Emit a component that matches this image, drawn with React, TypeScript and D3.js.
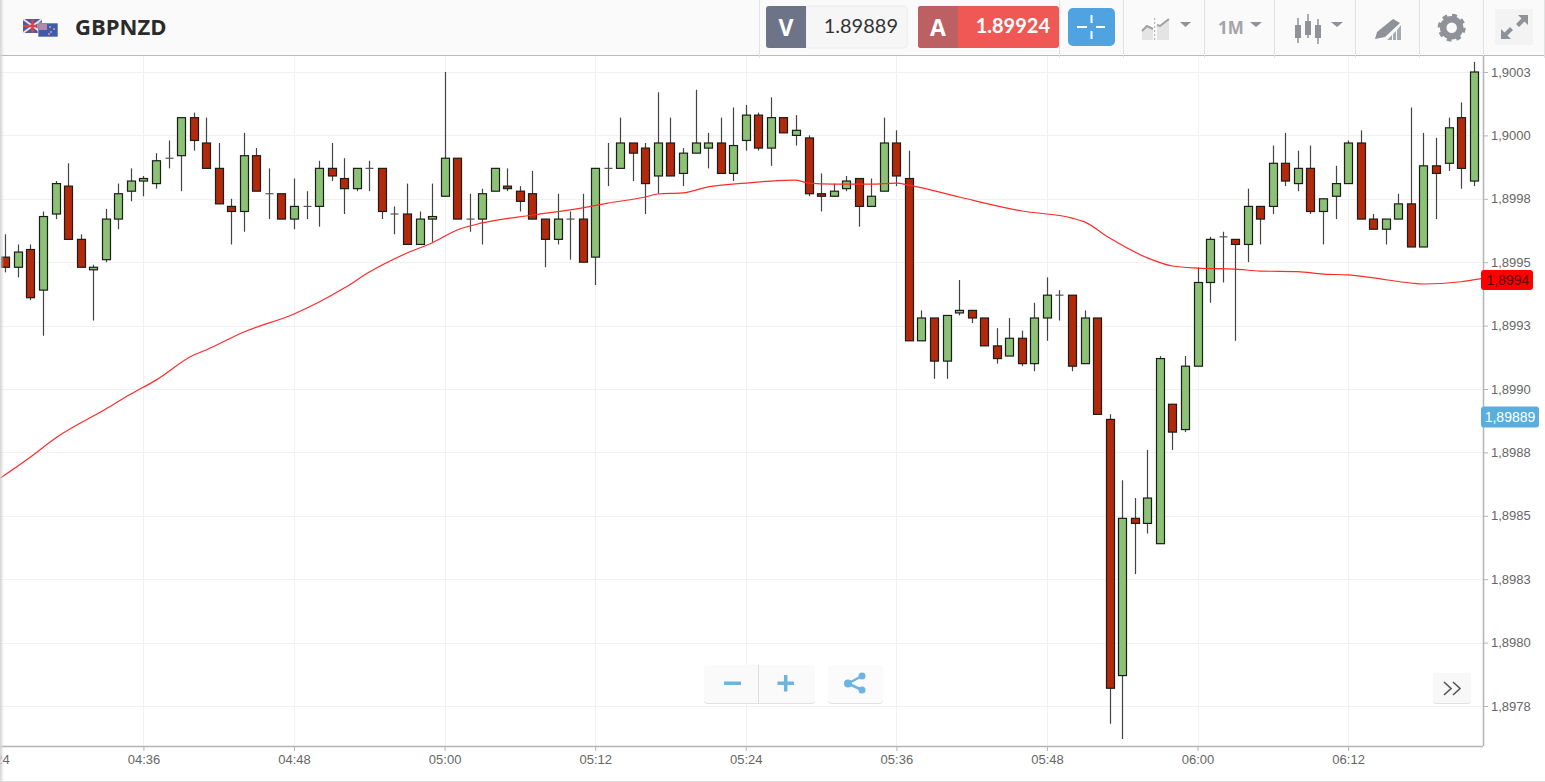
import * as d3 from 'd3';
import { useEffect, useRef } from 'react';

const symbol = 'GBPNZD';
const bidPrice = '1.89889';
const askPrice = '1.89924';
const period = '1M';
const emaLabel = '1,8994';
const bidLabel = '1,89889';

// one candle per minute, first one is 04:25
const firstMinute = 4 * 60 + 25;

const opens = [
  1.89952, 1.89948, 1.89955, 1.89939, 1.89969, 1.8998, 1.89959, 1.89947, 1.89951, 1.89967,
  1.89978, 1.89982, 1.89981, 1.89991, 1.89992, 1.90007, 1.89997, 1.89987, 1.89972, 1.8997,
  1.89992, 1.89977, 1.89977, 1.89967, 1.89972, 1.89972, 1.89987, 1.89983, 1.89979, 1.89987,
  1.89987, 1.89969, 1.89969, 1.89957, 1.89967, 1.89976, 1.89991, 1.89967, 1.89967, 1.89978,
  1.8998, 1.89978, 1.89977, 1.89967, 1.89959, 1.89967, 1.89967, 1.89952, 1.89987, 1.89987,
  1.89997, 1.89995, 1.89984, 1.89997, 1.89985, 1.89993, 1.89995, 1.89997, 1.89985, 1.89998,
  1.90008, 1.89995, 1.90007, 1.9, 1.89999, 1.89977, 1.89976, 1.89979, 1.89983, 1.89972,
  1.89978, 1.89997, 1.89983, 1.89919, 1.89928, 1.89911, 1.8993, 1.89931, 1.89928, 1.89917,
  1.89913, 1.8992, 1.8991, 1.89928, 1.89937, 1.89937, 1.8991, 1.89928, 1.89888, 1.89787,
  1.89849, 1.89847, 1.89839, 1.89894, 1.89884, 1.89909, 1.89942, 1.8996, 1.89959, 1.89957,
  1.89972, 1.89972, 1.89989, 1.89981, 1.89987, 1.8997, 1.89976, 1.89981, 1.89997, 1.89967,
  1.89963, 1.89967, 1.89973, 1.89956, 1.89988, 1.89989, 1.90007, 1.89982,
];
const highs = [
  1.89961, 1.89957, 1.89957, 1.8997, 1.89982, 1.89989, 1.89961, 1.89949, 1.89971, 1.89981,
  1.89987, 1.89984, 1.89993, 1.89998, 1.90007, 1.90009, 1.90007, 1.89997, 1.89975, 1.90001,
  1.89995, 1.89987, 1.89977, 1.89983, 1.89978, 1.8999, 1.89997, 1.89991, 1.89987, 1.8999,
  1.89987, 1.89972, 1.89981, 1.8997, 1.89981, 1.90025, 1.89991, 1.89977, 1.89979, 1.89987,
  1.89987, 1.8998, 1.89986, 1.89967, 1.89977, 1.8997, 1.89977, 1.89987, 1.89997, 1.90007,
  1.89997, 1.89997, 1.90017, 1.90007, 1.89995, 1.90018, 1.90001, 1.90007, 1.90011, 1.90012,
  1.90009, 1.90015, 1.90007, 1.90008, 1.9, 1.89985, 1.89981, 1.89984, 1.89983, 1.89983,
  1.90007, 1.90002, 1.89994, 1.89931, 1.89928, 1.89929, 1.89943, 1.89931, 1.89928, 1.89924,
  1.89928, 1.89923, 1.89934, 1.89944, 1.89939, 1.89937, 1.89931, 1.89928, 1.8989, 1.89864,
  1.89857, 1.89876, 1.89913, 1.89894, 1.89913, 1.89948, 1.8996, 1.89962, 1.89959, 1.89979,
  1.89972, 1.89996, 1.90001, 1.89994, 1.89996, 1.89975, 1.89988, 1.89998, 1.90002, 1.89969,
  1.89967, 1.89977, 1.90011, 1.90001, 1.89999, 1.90007, 1.90013, 1.90029,
];
const lows = [
  1.89946, 1.89944, 1.89935, 1.89921, 1.89967, 1.89959, 1.89948, 1.89927, 1.8995, 1.89963,
  1.89974, 1.89976, 1.89979, 1.89987, 1.89978, 1.89994, 1.89987, 1.89973, 1.89957, 1.89962,
  1.89978, 1.89967, 1.89967, 1.89963, 1.89967, 1.89964, 1.89982, 1.89969, 1.89978, 1.89978,
  1.89967, 1.89961, 1.89957, 1.89957, 1.89958, 1.89976, 1.89967, 1.89962, 1.89957, 1.89978,
  1.89978, 1.8997, 1.89967, 1.89948, 1.89957, 1.89951, 1.8995, 1.89941, 1.8998, 1.89987,
  1.89982, 1.89969, 1.89977, 1.89984, 1.8998, 1.89993, 1.89987, 1.89985, 1.89982, 1.89994,
  1.89994, 1.89988, 1.90001, 1.89996, 1.89976, 1.8997, 1.89976, 1.89978, 1.89964, 1.89972,
  1.89978, 1.8998, 1.89919, 1.89919, 1.89904, 1.89904, 1.89929, 1.89926, 1.89917, 1.8991,
  1.89913, 1.89909, 1.89907, 1.89919, 1.89927, 1.89907, 1.8991, 1.8989, 1.89768, 1.89762,
  1.89827, 1.89843, 1.89839, 1.89876, 1.89883, 1.89909, 1.89934, 1.89942, 1.89919, 1.8995,
  1.89957, 1.89969, 1.8998, 1.89978, 1.89969, 1.89957, 1.89967, 1.89981, 1.89967, 1.89963,
  1.89957, 1.89967, 1.89956, 1.89956, 1.89967, 1.89986, 1.89979, 1.8998,
];
const closes = [
  1.89948, 1.89954, 1.89936, 1.89968, 1.89981, 1.89959, 1.89948, 1.89948, 1.89967, 1.89977,
  1.89982, 1.89983, 1.8999, 1.89991, 1.90007, 1.89998, 1.89987, 1.89973, 1.8997, 1.89992,
  1.89978, 1.89977, 1.89967, 1.89972, 1.89972, 1.89987, 1.89984, 1.89979, 1.89987, 1.89987,
  1.8997, 1.89969, 1.89957, 1.89967, 1.89968, 1.89991, 1.89967, 1.89967, 1.89977, 1.89987,
  1.89979, 1.89974, 1.89967, 1.89959, 1.89967, 1.89967, 1.8995, 1.89987, 1.89987, 1.89997,
  1.89993, 1.89981, 1.89997, 1.89984, 1.89993, 1.89997, 1.89997, 1.89985, 1.89996, 1.90008,
  1.89995, 1.90007, 1.90001, 1.90002, 1.89977, 1.89976, 1.89978, 1.89982, 1.89972, 1.89976,
  1.89997, 1.89984, 1.89919, 1.89928, 1.89911, 1.89929, 1.89931, 1.89928, 1.89917, 1.89912,
  1.8992, 1.8991, 1.89928, 1.89937, 1.89937, 1.89909, 1.89928, 1.8989, 1.89782, 1.89849,
  1.89847, 1.89857, 1.89912, 1.89883, 1.89909, 1.89942, 1.89959, 1.8996, 1.89957, 1.89972,
  1.89967, 1.89989, 1.89982, 1.89987, 1.8997, 1.89975, 1.89981, 1.89997, 1.89967, 1.89963,
  1.89967, 1.89973, 1.89956, 1.89988, 1.89985, 1.90003, 1.89987, 1.90025,
];

const emaSteps = [
  -1, 2, 4, 8, 10, 12, 15, 16, 19, 23, 25, 27, 29, 32, 34, 36, 38, 42, 46, 48, 51, 52, 54, 56, 59,
  61, 63, 64, 66, 69, 71, 72, 76, 81, 85, 86, 88, 91, 93, 95, 98, 100, 103, 105, 107, 109, 112, 113,
  116, 118,
];
const emaValues = [
  1.898629, 1.898732, 1.898807, 1.898921, 1.89898, 1.899035, 1.899134, 1.899154, 1.899225, 1.899296,
  1.899343, 1.899398, 1.899461, 1.899536, 1.899576, 1.899627, 1.899655, 1.899686, 1.899714, 1.899733,
  1.899757, 1.899769, 1.899773, 1.899797, 1.899812, 1.89982, 1.899824, 1.899812, 1.899808, 1.899808,
  1.899812, 1.899804, 1.899757, 1.899702, 1.899674, 1.899659, 1.899595, 1.899517, 1.899485, 1.899477,
  1.899473, 1.899465, 1.899463, 1.899453, 1.89945, 1.899438, 1.899418, 1.899414, 1.899423, 1.899438,
];

const priceTicks = [
  1.90025, 1.9, 1.89975, 1.8995, 1.89925, 1.899, 1.89875, 1.8985, 1.89825, 1.898, 1.89775,
];
const priceTickLabels = [
  '1,9003', '1,9000', '1,8998', '1,8995', '1,8993', '1,8990', '1,8988', '1,8985', '1,8983', '1,8980', '1,8978',
];
const timeTickMinutes = [264, 276, 288, 300, 312, 324, 336, 348, 360, 372];
const timeTickLabels = ['04:24', '04:36', '04:48', '05:00', '05:12', '05:24', '05:36', '05:48', '06:00', '06:12'];

const colors = {
  up: '#8cc275',
  down: '#b32a0a',
  outline: '#1c1c1c',
  wick: '#444',
  grid: '#f1f1f1',
  axis: '#b4b4b4',
  ema: '#ff2a2a',
  tick: '#666',
  icon: '#8f9299',
  soft: '#6db4e0',
};

const plotRight = 1483;
const plotTop = 56;
const plotBottom = 746;
const axisFont = '"Liberation Sans", Arial, sans-serif';
const uiFont = '"Open Sans", sans-serif';
const priceFont = 'Lato, sans-serif';

const Toolbar = () => (
  <g>
    <rect x={0} y={0} width={1545} height={55} fill="#fafafa" />
    <line x1={0} x2={1545} y1={55.5} y2={55.5} stroke="#b9b9b9" />
    {[759, 1059, 1123, 1204, 1274, 1355, 1419, 1483, 1544].map((x) => (
      <line key={x} x1={x + 0.5} x2={x + 0.5} y1={0} y2={58} stroke="#e2e2e2" />
    ))}

    {/* flags */}
    <g>
      <rect x={23} y={19} width={19} height={14} fill="#4a5a9c" />
      <path d="M23 19L42 33M42 19L23 33" stroke="#f3dede" strokeWidth={2} />
      <path d="M32.5 19V33M23 26H42" stroke="#d9434e" strokeWidth={2.5} />
      <rect x={38} y={23} width={20} height={14} fill="#3f5cab" stroke="#fff" strokeWidth={0.6} />
      <rect x={39} y={24} width={8} height={6} fill="#b58aa8" />
      {[[50, 27], [54, 29], [51, 32], [49, 34]].map(([cx, cy]) => (
        <circle key={`${cx}-${cy}`} cx={cx} cy={cy} r={0.9} fill="#e9a3ad" />
      ))}
    </g>
    <text x={75} y={35} fontFamily={uiFont} fontWeight={700} fontSize={22} fill="#2b2b2b">
      {symbol}
    </text>

    {/* bid */}
    <rect x={806} y={6} width={101} height={42} rx={3} fill="#f6f6f6" stroke="#ececec" />
    <path d="M769 6H806V48H769Q766 48 766 45V9Q766 6 769 6Z" fill="#6e7488" />
    <text x={786} y={36} textAnchor="middle" fontFamily={uiFont} fontWeight={700} fontSize={23} fill="#fff">V</text>
    <text x={898} y={33} textAnchor="end" fontFamily={priceFont} fontSize={20} fill="#333">{bidPrice}</text>

    {/* ask */}
    <rect x={918} y={6} width={141} height={42} rx={3} fill="#ef5855" />
    <path d="M921 6H958V48H921Q918 48 918 45V9Q918 6 921 6Z" fill="#bd6064" />
    <text x={938} y={36} textAnchor="middle" fontFamily={uiFont} fontWeight={700} fontSize={23} fill="#fff">A</text>
    <text x={1050} y={33} textAnchor="end" fontFamily={priceFont} fontWeight={700} fontSize={20} fill="#fff">{askPrice}</text>

    {/* crosshair */}
    <rect x={1068} y={8} width={47} height={38} rx={5} fill="#4fa3e0" />
    <path d="M1077 27H1087M1096 27H1105M1091.5 15V23M1091.5 31V39" stroke="#fff" strokeWidth={2} />

    {/* indicators */}
    <path d="M1142 31L1147 26L1153 29V40H1142ZM1157 25L1160 26L1169 19V40H1157Z" fill="#e4e4e4" />
    <path d="M1142 31L1147 26L1153 29M1157 25L1160 26L1169 19" stroke="#a0a0a0" strokeWidth={2} fill="none" />
    <line x1={1154.7} x2={1154.7} y1={18} y2={41} stroke="#a8a8a8" strokeDasharray="2 2" />
    <path d="M1180 22H1191L1185.5 27Z" fill={colors.icon} />

    <text x={1218} y={34} fontFamily={uiFont} fontWeight={700} fontSize={17} fill="#a2a5aa">{period}</text>
    <path d="M1250 22H1262L1256 27Z" fill={colors.icon} />

    {/* candle type */}
    <path d="M1298 18V43M1308 14V38M1318 19V44" stroke={colors.icon} strokeWidth={1.5} />
    <path d="M1295 25H1301V38H1295ZM1305 21H1311V35H1305ZM1315 25H1321V38H1315Z" fill={colors.icon} />
    <path d="M1331 22H1343L1337 27Z" fill={colors.icon} />

    {/* drawing tools */}
    <path d="M1375 39L1377 32L1393 19L1400 23L1385 37Z" fill={colors.icon} />
    <path d="M1387 40L1392 35V40ZM1393 40V34L1396 31V40ZM1397 40V30L1401 25V40Z" fill="#a6a9ae" />

    {/* settings */}
    <circle cx={1451.7} cy={27.7} r={8.5} fill="none" stroke={colors.icon} strokeWidth={6.5} />
    <circle cx={1451.7} cy={27.7} r={12.5} fill="none" stroke={colors.icon} strokeWidth={3} strokeDasharray="4.9 4.92" />

    {/* fullscreen */}
    <rect x={1495} y={9} width={38} height={36} fill="#f3f3f3" />
    <path d="M1518 15H1528V25L1524.5 21.5L1519 27L1516 24L1521.5 18.5ZM1501 39V29L1504.5 32.5L1510 27L1513 30L1507.5 35.5L1511 39Z" fill={colors.icon} />
  </g>
);

const ChartButtons = () => (
  <g>
    <rect x={704} y={666} width={111} height={38} rx={4} fill="#e2e2e2" />
    <rect x={704} y={665} width={111} height={38} rx={4} fill="#fafafa" />
    <line x1={758.5} x2={758.5} y1={665} y2={703} stroke="#dedede" />
    <rect x={724} y={681.5} width={17} height={3.5} fill={colors.soft} />
    <path d="M777.5 683.2H794M785.7 675V691.5" stroke={colors.soft} strokeWidth={3.5} />

    <rect x={828} y={666} width={55} height={38} rx={4} fill="#e2e2e2" />
    <rect x={828} y={665} width={55} height={38} rx={4} fill="#fbfbfb" />
    <path d="M848 683.5L862 676M848 683.5L862 690" stroke={colors.soft} strokeWidth={2.5} />
    <circle cx={848} cy={683.5} r={4} fill={colors.soft} />
    <circle cx={862} cy={676} r={3.5} fill={colors.soft} />
    <circle cx={862} cy={690} r={3.5} fill={colors.soft} />

    <rect x={1433} y={674} width={38} height={30} rx={3} fill="#e2e2e2" />
    <rect x={1433} y={673} width={38} height={30} rx={3} fill="#f8f8f8" />
    <path d="M1444 682L1451 688.5L1444 695M1453 682L1460 688.5L1453 695" fill="none" stroke="#555" strokeWidth={1.6} />
  </g>
);

export default function App() {
  const ref = useRef<SVGGElement | null>(null);

  useEffect(() => {
    if (!ref.current) {
      return;
    }

    const x = d3.scaleLinear().domain([firstMinute, firstMinute + 117]).range([5.4, 1473.6]);
    const y = d3.scaleLinear().domain([1.89775, 1.90025]).range([706, 72]);

    const root = d3.select(ref.current);
    root.selectAll('*').remove();

    // grid
    root
      .append('g')
      .selectAll('line')
      .data(priceTicks)
      .join('line')
      .attr('x1', 0)
      .attr('x2', plotRight)
      .attr('y1', (d) => Math.round(y(d)) + 0.5)
      .attr('y2', (d) => Math.round(y(d)) + 0.5)
      .attr('stroke', colors.grid);

    root
      .append('g')
      .selectAll('line')
      .data(timeTickMinutes)
      .join('line')
      .attr('x1', (d) => Math.round(x(d)) + 0.5)
      .attr('x2', (d) => Math.round(x(d)) + 0.5)
      .attr('y1', plotTop)
      .attr('y2', plotBottom)
      .attr('stroke', colors.grid);

    // candles
    const candles = root
      .append('g')
      .selectAll('g')
      .data(d3.range(opens.length))
      .join('g')
      .attr('transform', (i) => `translate(${Math.round(x(firstMinute + i)) + 0.5},0)`);

    candles
      .append('line')
      .attr('y1', (i) => y(highs[i]))
      .attr('y2', (i) => y(lows[i]))
      .attr('stroke', colors.wick)
      .attr('stroke-width', 1.2);

    candles
      .filter((i) => opens[i] === closes[i])
      .append('line')
      .attr('x1', -4)
      .attr('x2', 4)
      .attr('y1', (i) => y(opens[i]))
      .attr('y2', (i) => y(opens[i]))
      .attr('stroke', '#555')
      .attr('stroke-width', 1.2);

    candles
      .filter((i) => opens[i] !== closes[i])
      .append('rect')
      .attr('x', -4)
      .attr('width', 8)
      .attr('y', (i) => y(Math.max(opens[i], closes[i])))
      .attr('height', (i) => Math.abs(y(opens[i]) - y(closes[i])))
      .attr('fill', (i) => (closes[i] > opens[i] ? colors.up : colors.down))
      .attr('stroke', colors.outline)
      .attr('stroke-width', 1.2);

    // moving average
    const emaLine = d3
      .line<number>()
      .x((step) => x(firstMinute + step))
      .y((_, i) => y(emaValues[i]))
      .curve(d3.curveMonotoneX);

    root
      .append('clipPath')
      .attr('id', 'plot-clip')
      .append('rect')
      .attr('x', 0)
      .attr('y', plotTop)
      .attr('width', plotRight)
      .attr('height', plotBottom - plotTop);

    root
      .append('path')
      .attr('d', emaLine(emaSteps))
      .attr('clip-path', 'url(#plot-clip)')
      .attr('fill', 'none')
      .attr('stroke', colors.ema)
      .attr('stroke-width', 1.2);

    // axes
    const priceAxis = d3
      .axisRight(y)
      .tickValues(priceTicks)
      .tickSize(5)
      .tickPadding(3)
      .tickFormat((_, i) => priceTickLabels[i]);

    const timeAxis = d3
      .axisBottom(x)
      .tickValues(timeTickMinutes)
      .tickSize(5)
      .tickPadding(4)
      .tickFormat((_, i) => timeTickLabels[i]);

    const priceAxisGroup = root.append('g').attr('transform', `translate(${plotRight},0)`).call(priceAxis);
    const timeAxisGroup = root.append('g').attr('transform', `translate(0,${plotBottom})`).call(timeAxis);

    [priceAxisGroup, timeAxisGroup].forEach((axis) => {
      axis.attr('font-family', axisFont).attr('font-size', 13);
      axis.select('.domain').remove();
      axis.selectAll('.tick line').attr('stroke', colors.axis);
      axis.selectAll('.tick text').attr('fill', colors.tick);
    });

    root
      .append('line')
      .attr('x1', plotRight + 0.5)
      .attr('x2', plotRight + 0.5)
      .attr('y1', plotTop)
      .attr('y2', plotBottom)
      .attr('stroke', colors.axis)
      .attr('stroke-width', 1.5);

    root
      .append('line')
      .attr('x1', 0)
      .attr('x2', plotRight)
      .attr('y1', plotBottom + 0.5)
      .attr('y2', plotBottom + 0.5)
      .attr('stroke', colors.axis)
      .attr('stroke-width', 1.5);

    // price flags on the axis
    const emaY = y(emaValues[emaValues.length - 1]) + 2;
    const bidY = y(Number(bidPrice));

    root
      .append('rect')
      .attr('x', 1481)
      .attr('y', emaY - 10)
      .attr('width', 52)
      .attr('height', 20)
      .attr('rx', 3)
      .attr('fill', '#ff0000');
    root
      .append('text')
      .attr('x', 1508)
      .attr('y', emaY + 5)
      .attr('text-anchor', 'middle')
      .attr('font-family', axisFont)
      .attr('font-size', 14)
      .attr('fill', '#5a0000')
      .text(emaLabel);

    root
      .append('rect')
      .attr('x', 1481)
      .attr('y', bidY - 10.5)
      .attr('width', 58)
      .attr('height', 21)
      .attr('rx', 3)
      .attr('fill', '#5aaede');
    root
      .append('text')
      .attr('x', 1510)
      .attr('y', bidY + 5)
      .attr('text-anchor', 'middle')
      .attr('font-family', axisFont)
      .attr('font-size', 14)
      .attr('fill', '#fff')
      .text(bidLabel);
  }, []);

  return (
    <>
      <style>{'body { margin: 0; }'}</style>
      <svg width={1545} height={782} style={{ display: 'block', background: '#fff' }}>
        <defs>
          <linearGradient id="edge-shadow" x1="0" x2="1" y1="0" y2="0">
            <stop offset="0" stopColor="#d4d4d4" />
            <stop offset="1" stopColor="#d4d4d4" stopOpacity={0} />
          </linearGradient>
        </defs>
        <Toolbar />
        <g ref={ref} />
        <ChartButtons />
        <rect x={0} y={0} width={4} height={782} fill="url(#edge-shadow)" />
        <line x1={0} x2={1545} y1={781.5} y2={781.5} stroke="#dcdcdc" />
      </svg>
    </>
  );
}
